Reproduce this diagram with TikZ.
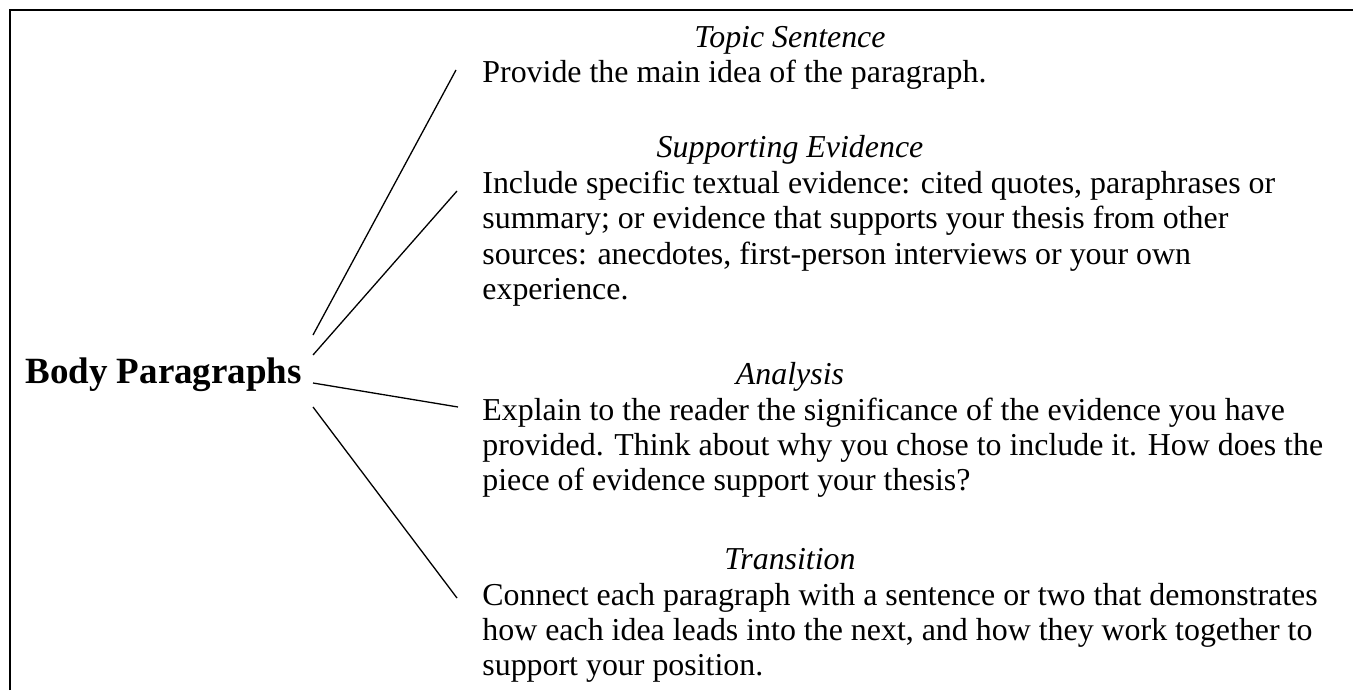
\documentclass[tikz,border=0pt]{standalone}
\usepackage{fontspec}
\setmainfont{Liberation Serif}
\begin{document}
\begin{tikzpicture}[x=0.5pt,y=-0.5pt,
  txt/.style={inner sep=0,anchor=base west,font=\fontsize{15.95}{17}\selectfont},
  head/.style={inner sep=0,anchor=base,font=\fontsize{15.95}{17}\selectfont\itshape},
  conn/.style={line width=0.65pt},
  frame/.style={line width=1pt}]
\useasboundingbox (0,0) rectangle (1353,690);
% frame
\draw[frame] (10,690) -- (10,10) -- (1353,10);
% main node
\node[inner sep=0,anchor=base west,font=\fontsize{18.5}{20}\selectfont\bfseries] (body) at (25,383) {Body Paragraphs};
% Topic sentence
\node[head] (h1) at (790,47.5) {Topic Sentence};
\node[txt] (p1a) at (482,83) {Provide the main idea of the paragraph.};
% Supporting evidence
\node[head] (h2) at (790,157) {Supporting Evidence};
\node[txt] (p2a) at (482,193) {Include specific textual evidence: cited quotes, paraphrases or};
\node[txt] (p2b) at (482,228.5) {summary; or evidence that supports your thesis from other};
\node[txt] (p2c) at (482,264) {sources: anecdotes, first-person interviews or your own};
\node[txt] (p2d) at (482,299.5) {experience.};
% Analysis
\node[head] (h3) at (790,384) {Analysis};
\node[txt] (p3a) at (482,420) {Explain to the reader the significance of the evidence you have};
\node[txt] (p3b) at (482,455) {provided. Think about why you chose to include it. How does the};
\node[txt] (p3c) at (482,490) {piece of evidence support your thesis?};
% Transition
\node[head] (h4) at (790,569) {Transition};
\node[txt] (p4a) at (482,605) {Connect each paragraph with a sentence or two that demonstrates};
\node[txt] (p4b) at (482,640) {how each idea leads into the next, and how they work together to};
\node[txt] (p4c) at (482,675) {support your position.};
% connector end points
\coordinate (s1) at (313,335);
\coordinate (s2) at (313,355);
\coordinate (s3) at (313,383);
\coordinate (s4) at (313,407);
\coordinate (e1) at (456,70);
\coordinate (e2) at (457,191);
\coordinate (e3) at (458,407);
\coordinate (e4) at (457,598);
\draw[conn] (s1) -- (e1);
\draw[conn] (s2) -- (e2);
\draw[conn] (s3) -- (e3);
\draw[conn] (s4) -- (e4);
\end{tikzpicture}
\end{document}
